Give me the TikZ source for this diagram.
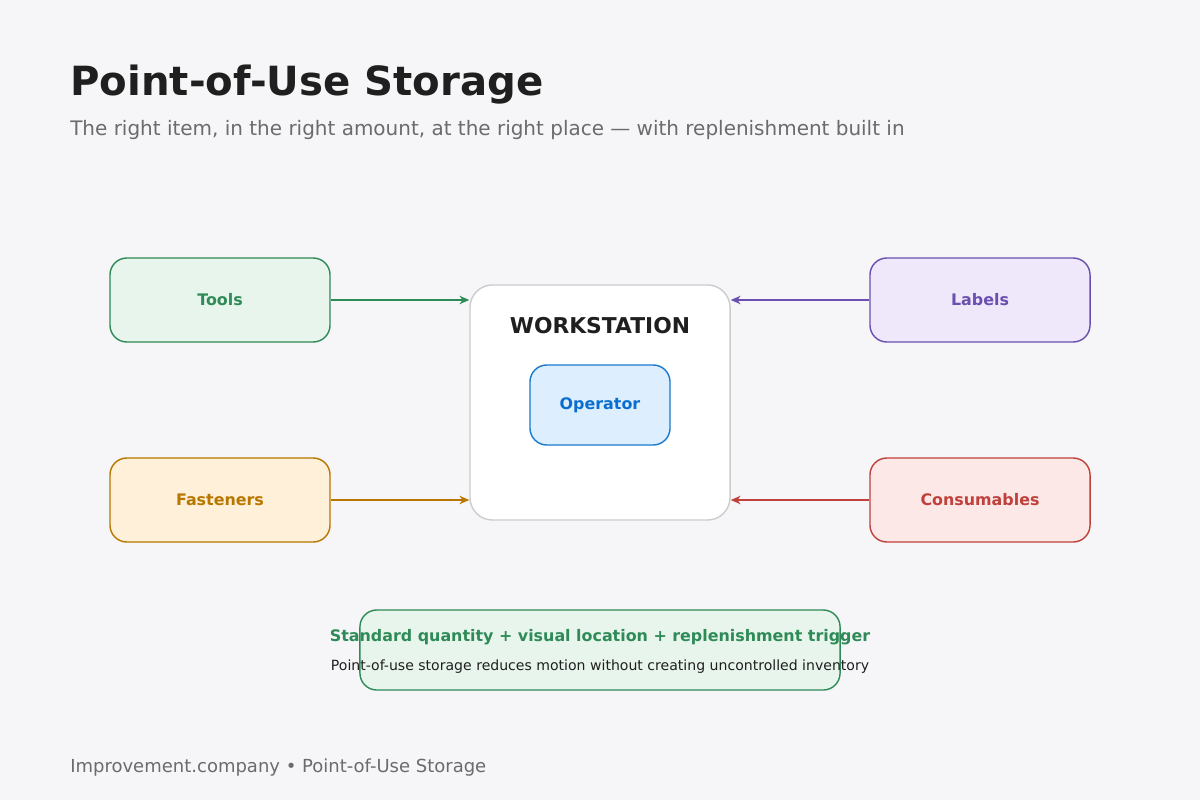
\documentclass[tikz,border=0pt]{standalone}
\usepackage{fontspec}
\setmainfont{DejaVu Sans}
\usetikzlibrary{arrows.meta}
\definecolor{bg}{HTML}{F6F6F8}
\definecolor{gline}{HTML}{2E8B57}\definecolor{gfill}{HTML}{E8F5EC}
\definecolor{pline}{HTML}{6A4FB0}\definecolor{pfill}{HTML}{EEE8FA}
\definecolor{oline}{HTML}{B87700}\definecolor{ofill}{HTML}{FFF0D9}
\definecolor{rline}{HTML}{C0413B}\definecolor{rfill}{HTML}{FDE8E8}
\definecolor{bline}{HTML}{1A7BCC}\definecolor{bfill}{HTML}{DDEEFF}\definecolor{btext}{HTML}{0A6ED1}
\tikzset{
  src/.style={draw=#1line, fill=#1fill, text=#1line, rounded corners=12pt, line width=1pt,
    minimum width=5.5cm, minimum height=2.1cm, inner sep=0pt, font=\bfseries\fontsize{11.3}{13}\selectfont},
  feed/.style={draw=#1line, line width=1.6pt, -{Stealth[length=7pt,width=6pt]}}
}
\begin{document}
\begin{tikzpicture}[x=0.025cm,y=-0.025cm]
\fill[bg] (0,0) rectangle (1200,800);
\node[anchor=west, inner sep=0pt, font=\bfseries\fontsize{28.6}{32}\selectfont, text=black!88] (title) at (70,85) {Point-of-Use Storage};
\node[anchor=west, inner sep=0pt, font=\fontsize{14.2}{17}\selectfont, text=black!58] (sub) at (70,130) {The right item, in the right amount, at the right place — with replenishment built in};
% workstation
\node[draw=black!20, fill=white, rounded corners=16pt, line width=1pt, minimum width=6.5cm, minimum height=5.875cm, inner sep=0pt] (ws) at (600,402.5) {};
\node[font=\bfseries\fontsize{15.5}{18}\selectfont, text=black!88] (wst) at (600,326) {WORKSTATION};
\node[src=b, text=btext, minimum width=3.5cm, minimum height=2cm] (op) at (600,405) {Operator};
% sources
\node[src=g] (tools) at (220,300) {Tools};
\node[src=p] (labels) at (980,300) {Labels};
\node[src=o] (fast) at (220,500) {Fasteners};
\node[src=r] (cons) at (980,500) {Consumables};
\draw[feed=g] (tools.east) -- (ws.west |- tools.east);
\draw[feed=p] (labels.west) -- (ws.east |- labels.west);
\draw[feed=o] (fast.east) -- (ws.west |- fast.east);
\draw[feed=r] (cons.west) -- (ws.east |- cons.west);
% note
\node[draw=gline, fill=gfill, rounded corners=12pt, line width=1pt, minimum width=12cm, minimum height=2cm] (note) at (600,650) {};
\node[font=\bfseries\fontsize{11.3}{13}\selectfont, text=gline] (nt) at (600,637) {Standard quantity + visual location + replenishment trigger};
\node[font=\fontsize{10}{12}\selectfont, text=black!88] (ns) at (600,667) {Point-of-use storage reduces motion without creating uncontrolled inventory};
\node[anchor=west, inner sep=0pt, font=\fontsize{12.8}{15}\selectfont, text=black!58] (foot) at (70,768) {Improvement.company • Point-of-Use Storage};
\end{tikzpicture}
\end{document}
